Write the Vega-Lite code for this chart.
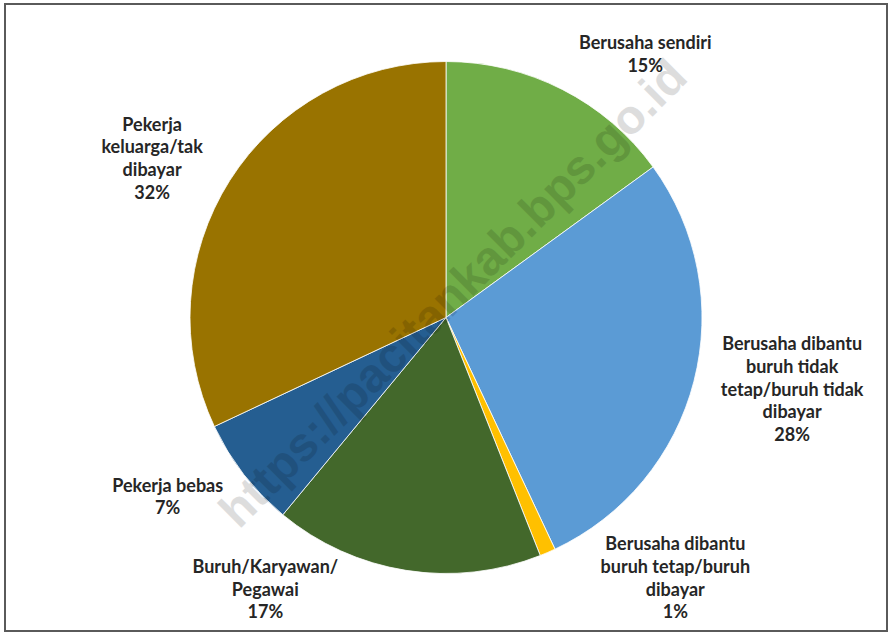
{
  "$schema": "https://vega.github.io/schema/vega-lite/v6.json",
  "width": 882,
  "height": 627,
  "autosize": {"type": "none"},
  "padding": {"left": 5, "top": 4, "right": 1, "bottom": 2},
  "background": "#ffffff",
  "config": {"view": {"stroke": "#5a5a5a", "strokeWidth": 2}},
  "datasets": {
    "status": [
      {"status": "Berusaha sendiri", "persen": 15},
      {"status": "Berusaha dibantu\nburuh tidak\ntetap/buruh tidak\ndibayar", "persen": 28},
      {"status": "Berusaha dibantu\nburuh tetap/buruh\ndibayar", "persen": 1},
      {"status": "Buruh/Karyawan/\nPegawai", "persen": 17},
      {"status": "Pekerja bebas", "persen": 7},
      {"status": "Pekerja\nkeluarga/tak\ndibayar", "persen": 32}
    ],
    "watermark": [{"teks": "https://pacitankab.bps.go.id"}]
  },
  "layer": [
    {
      "data": {"name": "status"},
      "transform": [{"window": [{"op": "row_number", "as": "urut"}]}],
      "mark": {"type": "arc", "outerRadius": 256, "stroke": "#ffffff", "strokeWidth": 0.8},
      "encoding": {
        "theta": {"field": "persen", "type": "quantitative", "stack": true},
        "order": {"field": "urut", "type": "quantitative"},
        "color": {
          "field": "status",
          "type": "nominal",
          "legend": null,
          "scale": {
            "domain": [
              "Berusaha sendiri",
              "Berusaha dibantu\nburuh tidak\ntetap/buruh tidak\ndibayar",
              "Berusaha dibantu\nburuh tetap/buruh\ndibayar",
              "Buruh/Karyawan/\nPegawai",
              "Pekerja bebas",
              "Pekerja\nkeluarga/tak\ndibayar"
            ],
            "range": ["#70AD47", "#5B9BD5", "#FFC000", "#43682B", "#255E91", "#997300"]
          }
        }
      }
    },
    {
      "data": {"name": "watermark"},
      "mark": {
        "type": "text",
        "angle": -45,
        "align": "center",
        "baseline": "middle",
        "dx": 22,
        "dy": -10,
        "font": "Liberation Sans",
        "fontWeight": "bold",
        "fontSize": 48,
        "color": "#000000",
        "opacity": 0.13
      },
      "encoding": {"text": {"field": "teks", "type": "nominal"}}
    },
    {
      "data": {"name": "status"},
      "transform": [
        {"window": [{"op": "row_number", "as": "urut"}]},
        {"window": [{"op": "sum", "field": "persen", "as": "kum"}], "sort": [{"field": "urut"}], "frame": [null, 0]},
        {"joinaggregate": [{"op": "sum", "field": "persen", "as": "total"}]},
        {"calculate": "2*PI*(datum.kum - datum.persen/2)/datum.total", "as": "tengah"},
        {"calculate": "datum.status + '\\n' + datum.persen + '%'", "as": "label"},
        {"calculate": "split(datum.label, '\\n')", "as": "baris"},
        {"calculate": "length(datum.baris)", "as": "n"},
        {"calculate": "max(length(datum.baris[0] || ''), length(datum.baris[1] || ''), length(datum.baris[2] || ''), length(datum.baris[3] || ''), length(datum.baris[4] || ''))", "as": "maks"},
        {"calculate": "sin(datum.tengah)", "as": "s"},
        {"calculate": "cos(datum.tengah)", "as": "c"},
        {"calculate": "datum.n * 0.0889 / 2", "as": "h"},
        {"calculate": "clamp(1.15 * datum.c, -1.20 + datum.h, 1.20 - datum.h)", "as": "ly"},
        {"calculate": "datum.ly < 0 ? min(0, datum.ly + datum.h) : max(0, datum.ly - datum.h)", "as": "ny"},
        {"calculate": "max(1.08 * abs(datum.s), sqrt(max(0, 1.0609 - datum.ny * datum.ny)))", "as": "xn"},
        {"calculate": "(datum.s >= 0 ? 1 : -1) * (datum.xn + datum.maks * 0.036 / 2)", "as": "lx"},
        {"calculate": "datum.ly + (datum.n - 1) * 0.0889 / 2", "as": "ly_atas"}
      ],
      "mark": {
        "type": "text",
        "align": "center",
        "baseline": "middle",
        "lineBreak": "\n",
        "lineHeight": 22.75,
        "font": "Lato",
        "fontWeight": "bold",
        "fontSize": 18,
        "color": "#262626"
      },
      "encoding": {
        "x": {"field": "lx", "type": "quantitative", "scale": {"domain": [-1.7227, 1.7227], "nice": false, "zero": false}, "axis": null},
        "y": {"field": "ly_atas", "type": "quantitative", "scale": {"domain": [-1.2246, 1.2246], "nice": false, "zero": false}, "axis": null},
        "text": {"field": "label", "type": "nominal"}
      }
    }
  ]
}
